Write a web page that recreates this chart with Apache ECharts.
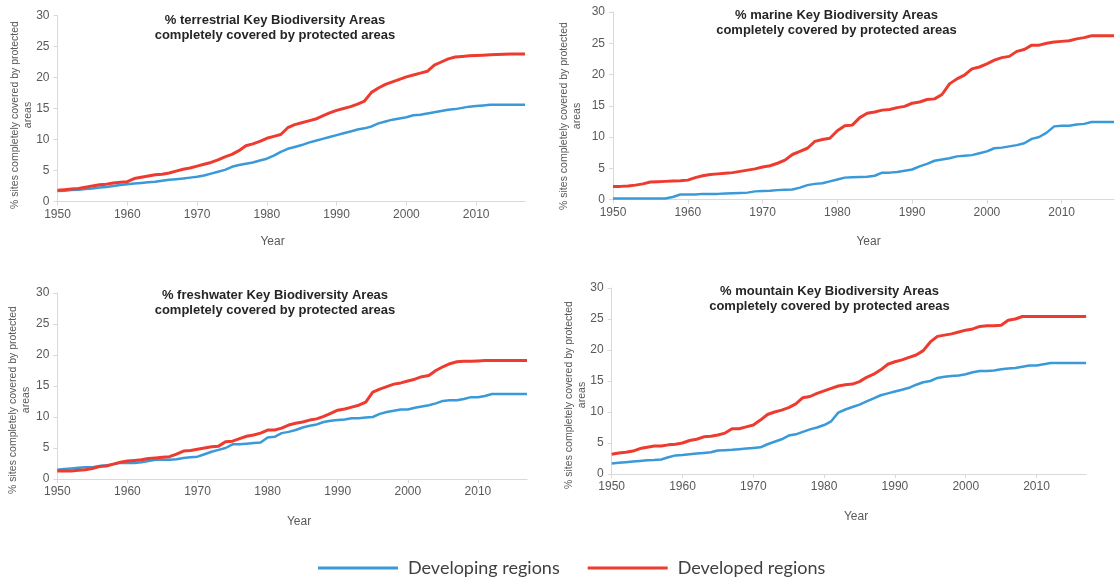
<!DOCTYPE html>
<html>
<head>
<meta charset="utf-8">
<script src="https://cdn.jsdelivr.net/npm/echarts@6/dist/echarts.min.js"></script>
<style>
  html, body { margin: 0; padding: 0; background: #ffffff; }
  #chart { width: 1116px; height: 578px; }
</style>
</head>
<body>
<div id="chart"></div>
<script>
// Years on the horizontal axis (one category per year)
const years = [];
for (let y = 1950; y <= 2017; y++) years.push(String(y));

const seriesNames = ['Developing regions', 'Developed regions'];

const panelTitles = [
  '% terrestrial Key Biodiversity Areas\ncompletely covered by protected areas',
  '% marine Key Biodiversity Areas\ncompletely covered by protected areas',
  '% freshwater Key Biodiversity Areas\ncompletely covered by protected areas',
  '% mountain Key Biodiversity Areas\ncompletely covered by protected areas'
];
const yAxisTitle = '% sites completely covered by protected\nareas';
const xAxisTitle = 'Year';

// % of sites completely covered, 1950–2017
const terrestrialDeveloping = [
  1.7, 1.75, 1.85, 1.9, 2.0, 2.1, 2.25, 2.35, 2.5, 2.65,
  2.8, 2.9, 3.0, 3.1, 3.2, 3.35, 3.5, 3.6, 3.7, 3.85,
  4.0, 4.2, 4.5, 4.8, 5.1, 5.6, 5.9, 6.1, 6.3, 6.6,
  6.9, 7.4, 8.0, 8.5, 8.8, 9.1, 9.5, 9.8, 10.1, 10.4,
  10.7, 11.0, 11.3, 11.6, 11.8, 12.1, 12.6, 12.9, 13.2, 13.4,
  13.6, 13.9, 14.0, 14.2, 14.4, 14.6, 14.8, 14.9, 15.1, 15.3,
  15.4, 15.5, 15.6, 15.6, 15.6, 15.6, 15.6, 15.6
];
const terrestrialDeveloped = [
  1.8, 1.9, 2.0, 2.1, 2.3, 2.5, 2.7, 2.8, 3.0, 3.1,
  3.2, 3.7, 3.9, 4.1, 4.3, 4.4, 4.6, 4.9, 5.2, 5.4,
  5.7, 6.0, 6.3, 6.7, 7.2, 7.6, 8.2, 9.0, 9.3, 9.7,
  10.2, 10.5, 10.8, 11.9, 12.4, 12.7, 13.0, 13.3, 13.8, 14.3,
  14.7, 15.0, 15.3, 15.7, 16.2, 17.6, 18.3, 18.9, 19.3, 19.7,
  20.1, 20.4, 20.7, 21.0, 22.0, 22.5, 23.0, 23.3, 23.4, 23.5,
  23.55, 23.6, 23.65, 23.7, 23.75, 23.8, 23.8, 23.8
];
const marineDeveloping = [
  0.15, 0.15, 0.15, 0.15, 0.15, 0.15, 0.15, 0.15, 0.4, 0.8,
  0.8, 0.8, 0.9, 0.9, 0.9, 0.95, 1.0, 1.05, 1.1, 1.3,
  1.35, 1.4, 1.5, 1.55, 1.6, 1.9, 2.3, 2.5, 2.6, 2.9,
  3.2, 3.5, 3.55, 3.6, 3.65, 3.8, 4.3, 4.3, 4.4, 4.6,
  4.8, 5.3, 5.7, 6.2, 6.4, 6.6, 6.9, 7.0, 7.1, 7.4,
  7.7, 8.2, 8.3, 8.5, 8.7, 9.0, 9.7, 10.0, 10.7, 11.7,
  11.8, 11.8, 12.0, 12.1, 12.4, 12.4, 12.4, 12.4
];
const marineDeveloped = [
  2.1, 2.1, 2.15, 2.3, 2.5, 2.8, 2.85, 2.9, 2.95, 3.0,
  3.1, 3.5, 3.8, 4.0, 4.1, 4.2, 4.3, 4.5, 4.7, 4.9,
  5.2, 5.4, 5.8, 6.3, 7.2, 7.7, 8.2, 9.3, 9.6, 9.8,
  11.0, 11.8, 11.9, 13.1, 13.8, 14.0, 14.3, 14.4, 14.7, 14.9,
  15.4, 15.6, 16.0, 16.1, 16.8, 18.5, 19.3, 19.9, 20.9, 21.2,
  21.7, 22.3, 22.7, 22.9, 23.7, 24.0, 24.7, 24.7, 25.0, 25.2,
  25.3, 25.4, 25.7, 25.9, 26.2, 26.2, 26.2, 26.2
];
const freshwaterDeveloping = [
  1.5, 1.6, 1.7, 1.8, 1.9, 1.9, 2.1, 2.2, 2.4, 2.6,
  2.6, 2.6, 2.7, 2.9, 3.1, 3.1, 3.1, 3.2, 3.4, 3.5,
  3.6, 4.0, 4.4, 4.7, 5.0, 5.6, 5.6, 5.7, 5.8, 5.9,
  6.7, 6.8, 7.4, 7.6, 7.9, 8.3, 8.6, 8.8, 9.2, 9.4,
  9.5, 9.6, 9.8, 9.8, 9.9, 10.0, 10.5, 10.8, 11.0, 11.2,
  11.2, 11.5, 11.7, 11.9, 12.2, 12.6, 12.7, 12.7, 12.9, 13.2,
  13.2, 13.4, 13.7, 13.7, 13.7, 13.7, 13.7, 13.7
];
const freshwaterDeveloped = [
  1.3, 1.3, 1.3, 1.4, 1.5, 1.7, 2.0, 2.1, 2.4, 2.7,
  2.9, 3.0, 3.1, 3.3, 3.4, 3.5, 3.6, 4.0, 4.5, 4.6,
  4.8, 5.0, 5.2, 5.3, 6.0, 6.1, 6.5, 6.9, 7.1, 7.4,
  7.9, 7.9, 8.2, 8.7, 9.0, 9.2, 9.5, 9.7, 10.1, 10.6,
  11.1, 11.3, 11.6, 11.9, 12.4, 14.0, 14.5, 14.9, 15.3, 15.5,
  15.8, 16.1, 16.5, 16.7, 17.5, 18.1, 18.6, 18.9, 19.0, 19.0,
  19.05, 19.1, 19.1, 19.1, 19.1, 19.1, 19.1, 19.1
];
const mountainDeveloping = [
  1.7, 1.8, 1.9, 2.0, 2.1, 2.2, 2.25, 2.35, 2.7, 3.0,
  3.05, 3.2, 3.3, 3.4, 3.5, 3.8, 3.85, 3.9, 4.0, 4.1,
  4.2, 4.3, 4.8, 5.2, 5.6, 6.2, 6.4, 6.8, 7.2, 7.5,
  7.9, 8.5, 9.9, 10.4, 10.8, 11.2, 11.7, 12.2, 12.7, 13.0,
  13.3, 13.6, 13.9, 14.4, 14.8, 15.0, 15.5, 15.7, 15.8, 15.9,
  16.1, 16.4, 16.6, 16.6, 16.7, 16.9, 17.0, 17.1, 17.3, 17.5,
  17.5, 17.7, 17.9, 17.9, 17.9, 17.9, 17.9, 17.9
];
const mountainDeveloped = [
  3.2, 3.4, 3.5, 3.7, 4.1, 4.3, 4.5, 4.5, 4.7, 4.8,
  5.0, 5.4, 5.6, 6.0, 6.1, 6.3, 6.6, 7.3, 7.3, 7.6,
  7.9, 8.7, 9.6, 10.0, 10.3, 10.7, 11.3, 12.3, 12.5, 13.0,
  13.4, 13.8, 14.2, 14.4, 14.5, 14.9, 15.6, 16.1, 16.8, 17.7,
  18.1, 18.4, 18.8, 19.2, 19.9, 21.3, 22.2, 22.4, 22.6, 22.9,
  23.2, 23.4, 23.8, 23.9, 23.9, 24.0, 24.8, 25.0, 25.4, 25.4,
  25.4, 25.4, 25.4, 25.4, 25.4, 25.4, 25.4, 25.4
];

const panelData = [
  [terrestrialDeveloping, terrestrialDeveloped],
  [marineDeveloping, marineDeveloped],
  [freshwaterDeveloping, freshwaterDeveloped],
  [mountainDeveloping, mountainDeveloped]
];

// ---- layout & style ----
const FONT = '"Liberation Sans", Arial, Helvetica, sans-serif';
const BLUE = '#3a9ad9';
const RED = '#ee3b2f';
const AXIS_GRAY = '#d9d9d9';
const LABEL_GRAY = '#595959';

const grids = [
  { left: 57.5, top: 15.5, width: 467.5, height: 186 },
  { left: 613, top: 12, width: 501, height: 187.5 },
  { left: 57.3, top: 293, width: 469.7, height: 186 },
  { left: 611.7, top: 288, width: 474.4, height: 186 }
];
const titlePos = [
  { x: 275, top: 12.5 },
  { x: 836.5, top: 7.5 },
  { x: 275, top: 287.5 },
  { x: 829.5, top: 284 }
];
const yNamePos = [
  { x: 21.5, y: 115 },
  { x: 571, y: 116 },
  { x: 20, y: 400 },
  { x: 575.5, y: 395 }
];
const xNamePos = [
  { x: 272.5, y: 242 },
  { x: 868.5, y: 241.5 },
  { x: 299, y: 521.5 },
  { x: 856, y: 516.5 }
];

const decade = function (idx, val) { return Number(val) % 10 === 0; };

const option = {
  animation: false,
  backgroundColor: '#ffffff',
  textStyle: { fontFamily: FONT },
  title: panelTitles.map(function (t, i) {
    return {
      text: t,
      left: titlePos[i].x,
      top: titlePos[i].top,
      textAlign: 'center',
      padding: 0,
      textStyle: {
        fontFamily: FONT, fontSize: 13, fontWeight: 'bold',
        color: '#262626', lineHeight: 15, align: 'center'
      }
    };
  }),
  legend: {
    data: seriesNames,
    left: 318,
    top: 558,
    itemWidth: 80,
    itemHeight: 3,
    itemGap: 28,
    icon: 'rect',
    padding: 0,
    textStyle: {
      fontFamily: 'Lato, "Open Sans", sans-serif',
      fontSize: 18, color: '#404040', lineHeight: 20,
      padding: [0, 0, 0, 5]
    }
  },
  grid: grids.map(function (g) { return Object.assign({ containLabel: false }, g); }),
  xAxis: grids.map(function (g, i) {
    return {
      type: 'category',
      gridIndex: i,
      data: years,
      boundaryGap: false,
      axisLine: { show: true, lineStyle: { color: AXIS_GRAY, width: 1 } },
      axisTick: { show: true, interval: decade, length: 4, lineStyle: { color: AXIS_GRAY } },
      axisLabel: {
        interval: decade, margin: 7, color: LABEL_GRAY,
        fontFamily: FONT, fontSize: 12
      },
      splitLine: { show: false }
    };
  }),
  yAxis: grids.map(function (g, i) {
    return {
      type: 'value',
      gridIndex: i,
      min: 0, max: 30, interval: 5,
      axisLine: { show: true, lineStyle: { color: AXIS_GRAY, width: 1 } },
      axisTick: { show: true, length: 4, lineStyle: { color: AXIS_GRAY } },
      axisLabel: { margin: 8, color: LABEL_GRAY, fontFamily: FONT, fontSize: 12 },
      splitLine: { show: false }
    };
  }),
  series: [],
  graphic: []
};

panelData.forEach(function (pair, i) {
  option.series.push({
    name: seriesNames[0], type: 'line', xAxisIndex: i, yAxisIndex: i,
    data: pair[0], showSymbol: false, symbol: 'none',
    lineStyle: { color: BLUE, width: 2.5 }, itemStyle: { color: BLUE }
  });
  option.series.push({
    name: seriesNames[1], type: 'line', xAxisIndex: i, yAxisIndex: i,
    data: pair[1], showSymbol: false, symbol: 'none',
    lineStyle: { color: RED, width: 3 }, itemStyle: { color: RED }
  });
  option.graphic.push({
    type: 'text', x: yNamePos[i].x, y: yNamePos[i].y, rotation: Math.PI / 2,
    style: {
      text: yAxisTitle, fill: LABEL_GRAY,
      font: '10.5px ' + FONT, lineHeight: 13,
      align: 'center', verticalAlign: 'middle',
      textAlign: 'center', textVerticalAlign: 'middle'
    }
  });
  option.graphic.push({
    type: 'text', x: xNamePos[i].x, y: xNamePos[i].y,
    style: {
      text: xAxisTitle, fill: LABEL_GRAY,
      font: '12px ' + FONT,
      align: 'center', verticalAlign: 'middle',
      textAlign: 'center', textVerticalAlign: 'middle'
    }
  });
});

const chart = echarts.init(document.getElementById('chart'), null, { renderer: 'canvas' });
chart.setOption(option);
</script>
</body>
</html>
